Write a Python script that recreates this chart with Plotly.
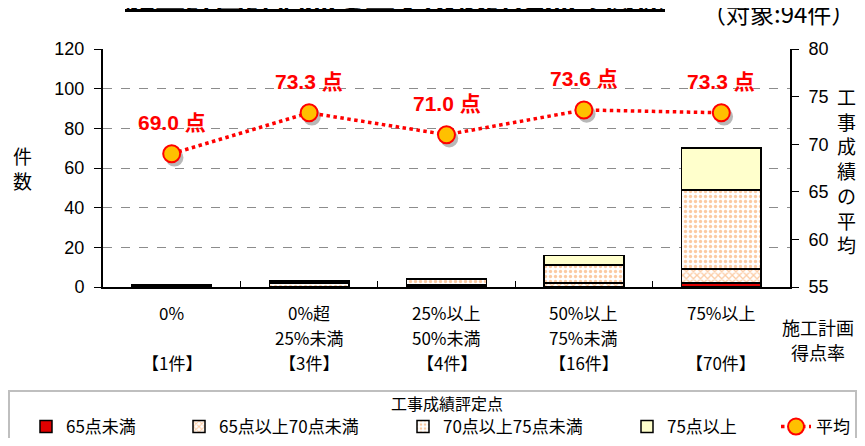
import plotly.graph_objects as go

categories = ["0%", "0%超25%未満", "25%以上50%未満", "50%以上75%未満", "75%以上"]
label_line1 = ["0%", "0%超", "25%以上", "50%以上", "75%以上"]
label_line2 = ["", "25%未満", "50%未満", "75%未満", ""]
count_labels = ["【1件】", "【3件】", "【4件】", "【16件】", "【70件】"]

under65 = [0, 0, 0, 0, 2]
s65_70 = [1, 0, 1, 2, 7]
s70_75 = [0, 2, 3, 9, 40]
over75 = [0, 1, 0, 5, 21]
avg_score = [69.0, 73.3, 71.0, 73.6, 73.3]

series_names = ["65点未満", "65点以上70点未満", "70点以上75点未満", "75点以上"]

JP = "Noto Sans CJK JP"
NUM = "Liberation Sans"
ORANGE = "#F79646"

# The page adds an 8px body margin; the figure is sized so no scrollbar appears.
OFF = 8
FW, FH = 865 - 2 * OFF, 446 - 2 * OFF
# plot area target in page pixels
PL, PR, PT, PB = 103, 790, 49, 287
PW, PH = PR - PL, PB - PT


def px(xp):
    return (xp - PL) / PW


def py(yp):
    return (PB - yp) / PH


def cx(xp):  # page x -> container fraction
    return (xp - OFF) / FW


def cy(yp):  # page y -> container fraction
    return 1 - (yp - OFF) / FH


fig = go.Figure()
bar_line = dict(color="#000000", width=1.5)
fig.add_trace(go.Bar(x=categories, y=under65, name=series_names[0],
                     legend="legend", legendwidth=108,
                     marker=dict(color="#E00000", line=bar_line)))
fig.add_trace(go.Bar(x=categories, y=s65_70, name=series_names[1],
                     legend="legend",
                     marker=dict(color="#FFFFFF", line=bar_line,
                                 pattern=dict(shape="x", fgcolor=ORANGE, bgcolor="#FFFFFF",
                                              size=5, solidity=0.45))))
fig.add_trace(go.Bar(x=categories, y=s70_75, name=series_names[2],
                     legend="legend2", legendwidth=179,
                     marker=dict(color="#FFFFFF", line=bar_line,
                                 pattern=dict(shape=".", fgcolor=ORANGE, bgcolor="#FFFFFF",
                                              size=5, solidity=0.35))))
fig.add_trace(go.Bar(x=categories, y=over75, name=series_names[3],
                     legend="legend2",
                     marker=dict(color="#FFFFCC", line=bar_line)))
# soft drop shadow of the average markers (same data on slightly shifted hidden axes)
fig.add_trace(go.Scatter(x=categories, y=avg_score, xaxis="x2", yaxis="y2",
                         mode="markers", showlegend=False, hoverinfo="skip",
                         marker=dict(size=18, color="rgba(0,0,0,0.28)")))
fig.add_trace(go.Scatter(x=categories, y=avg_score, name="平均", xaxis="x3", yaxis="y3",
                         legend="legend3", mode="lines+markers",
                         line=dict(color="#FF0000", width=3.5, dash="dot"),
                         marker=dict(size=17, color="#FFC000",
                                     line=dict(color="#FF0000", width=2))))

annotations = []
for c, v in zip(categories, avg_score):
    annotations.append(dict(x=c, y=v, xref="x", yref="y3", yshift=31,
                            xanchor="center", yanchor="middle",
                            text=f"{v:.1f} 点", showarrow=False,
                            font=dict(family=NUM + ", " + JP, size=21, color="#FF0000",
                                      weight="bold")))
for rows, shift in ((label_line1, -25), (label_line2, -50), (count_labels, -75)):
    for c, t in zip(categories, rows):
        if t:
            annotations.append(dict(x=c, y=0, xref="x", yref="paper", yshift=shift,
                                    xanchor="center", yanchor="middle",
                                    text=t, showarrow=False,
                                    font=dict(family=JP, size=17, color="#000000")))


def note(text, xp, yp, size, **kw):
    f = dict(family=JP, size=size, color="#000")
    f.update(kw)
    return dict(x=px(xp), y=py(yp), xref="paper", yref="paper",
                xanchor="center", yanchor="middle", text=text,
                showarrow=False, font=f)


annotations += [
    note("施工計画", 818, 327, 18),
    note("得点率", 818, 352, 18),
    note("件<br>数", 22, 168, 19),
    note("工<br>事<br>成<br>績<br>の<br>平<br>均", 846, 170, 19),
    note("<u>施工計画評価点と工事成績評定点の関係</u>", 395, -6, 30, weight="bold"),
    note("（対象:94件）", 778, 12, 24),
    note("工事成績評定点", 447, 403, 16),
]

shapes = [dict(type="rect", xref="paper", yref="paper",
               x0=px(OFF + 1), x1=px(OFF + FW - 1), y0=py(460), y1=py(391),
               line=dict(color="#BFBFBF", width=2), fillcolor="rgba(0,0,0,0)",
               layer="below")]

LEG_TEXT_OFFSET = 38
leg_common = dict(orientation="h", xref="container", yref="container",
                  xanchor="left", y=cy(427), yanchor="middle",
                  font=dict(family=JP, size=17), borderwidth=0,
                  bgcolor="rgba(0,0,0,0)", traceorder="normal", itemwidth=30)

fig.update_layout(
    width=FW, height=FH,
    margin=dict(l=PL - OFF, r=(OFF + FW) - PR, t=PT - OFF, b=(OFF + FH) - PB),
    paper_bgcolor="#FFFFFF", plot_bgcolor="#FFFFFF",
    barmode="stack", bargap=0.42,
    font=dict(family=JP, size=16, color="#000"),
    showlegend=True,
    legend=dict(x=cx(64 - LEG_TEXT_OFFSET), **leg_common),
    legend2=dict(x=cx(441 - LEG_TEXT_OFFSET), **leg_common),
    legend3=dict(x=cx(814 - LEG_TEXT_OFFSET), **leg_common),
    xaxis=dict(type="category", range=[-0.5, 4.5], showticklabels=False,
               showline=True, linecolor="#000", linewidth=2,
               ticks="inside", tickson="boundaries", ticklen=6, tickcolor="#000",
               showgrid=False, zeroline=False),
    xaxis2=dict(type="category", range=[-0.52, 4.48], overlaying="x", anchor="y",
                visible=False),
    xaxis3=dict(type="category", range=[-0.5, 4.5], overlaying="x", anchor="y",
                visible=False),
    yaxis=dict(range=[0, 120], dtick=20, showgrid=True, griddash="dash",
               gridcolor="#8C8C8C", gridwidth=1, zeroline=False,
               showline=True, linecolor="#000", linewidth=2,
               ticks="outside", ticklen=7, tickcolor="#000",
               tickfont=dict(family=NUM, size=18), ticklabelstandoff=6),
    yaxis2=dict(range=[55.4, 80.4], overlaying="y", anchor="x", visible=False),
    yaxis3=dict(range=[55, 80], dtick=5, overlaying="y", side="right", anchor="x",
                showgrid=False, zeroline=False,
                showline=True, linecolor="#000", linewidth=2,
                ticks="outside", ticklen=7, tickcolor="#000",
                tickfont=dict(family=NUM, size=18), ticklabelstandoff=6),
    annotations=annotations,
    shapes=shapes,
)

fig.write_html("out.html")
